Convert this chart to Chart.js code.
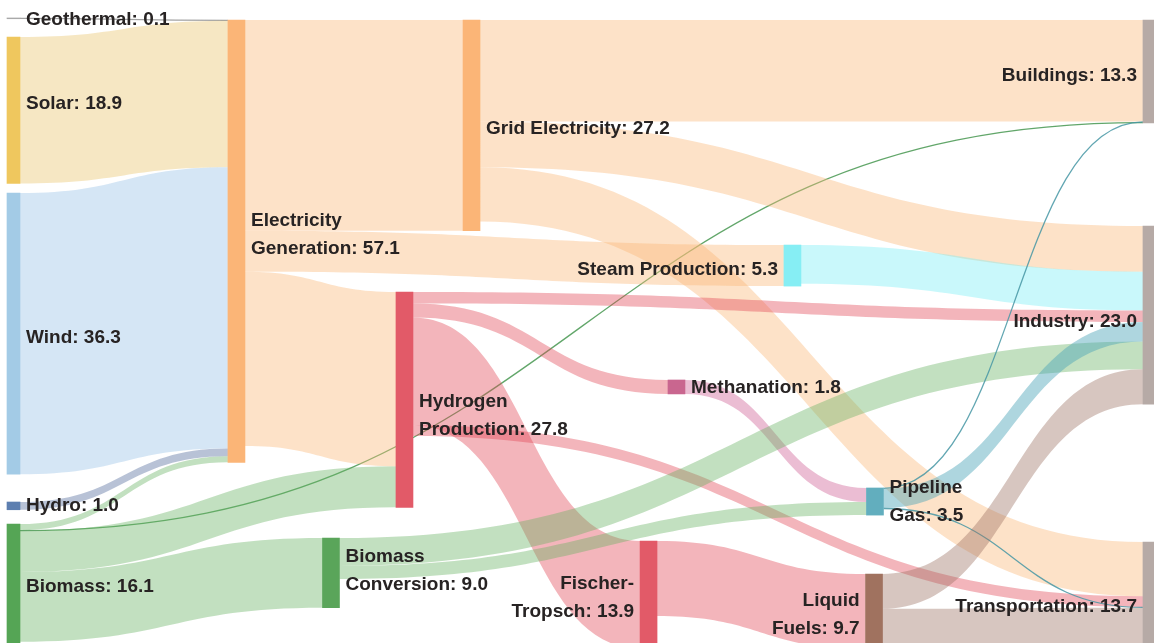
<!DOCTYPE html>
<html>
<head>
<meta charset="utf-8">
<script src="https://cdn.jsdelivr.net/npm/chart.js@4.4.1/dist/chart.umd.min.js"></script>
<style>
  html, body { margin: 0; padding: 0; background: #ffffff; }
  #wrap { width: 1154px; height: 643px; position: relative; }
</style>
</head>
<body>
<div id="wrap"><canvas id="c"></canvas></div>
<script>
// ---------------- DATA ----------------
const nodeLabels = [
  "Geothermal", "Solar", "Wind", "Hydro", "Biomass",
  "Electricity\nGeneration", "Grid Electricity", "Hydrogen\nProduction",
  "Steam Production", "Biomass\nConversion", "Methanation",
  "Fischer-\nTropsch", "Pipeline\nGas", "Liquid\nFuels",
  "Buildings", "Industry", "Transportation"
];
const nodeValues = [0.1, 18.9, 36.3, 1.0, 16.1, 57.1, 27.2, 27.8, 5.3, 9.0, 1.8, 13.9, 3.5, 9.7, 13.3, 23.0, 13.7];

const linkSource = [0, 1, 2, 3, 4, 4, 4, 4, 5, 5, 5, 6, 6, 6, 8, 7, 7, 7, 7, 10, 9, 9, 12, 12, 12, 11, 13, 13];
const linkTarget = [5, 5, 5, 5, 5, 14, 7, 9, 6, 8, 7, 14, 15, 16, 15, 15, 10, 11, 16, 12, 15, 12, 14, 15, 16, 13, 15, 16];
const linkValues = [0.1, 18.9, 36.3, 1.0, 0.8, 0.1, 5.3, 9.0, 27.2, 5.3, 22.5, 13.1, 5.9, 7.0, 5.0, 1.5, 1.8, 13.9, 1.4, 1.8, 3.6, 1.7, 0.1, 2.5, 0.1, 9.7, 4.5, 5.2];

// ---------------- LAYOUT (axis units) ----------------
// node centre on the horizontal axis (fraction of width)
const nodeX = [0.0117, 0.0117, 0.0117, 0.0117, 0.0117, 0.2049, 0.4086, 0.3505, 0.6867, 0.2868, 0.5862, 0.5620, 0.7582, 0.7574, 0.9978, 0.9978, 0.9978];
// node top on the value axis (energy units from the top)
const nodeY = [2.32, 4.78, 24.91, 64.80, 67.64, 2.58, 2.58, 37.69, 31.63, 69.45, 49.05, 69.83, 62.99, 74.09, 2.58, 29.17, 69.96];
const labelSide = ["r", "r", "r", "r", "r", "r", "r", "r", "l", "r", "r", "l", "r", "l", "l", "l", "l"];
const labelNudge = [1, -6, 4, 0, 0, -6, 3, 16, 4, -2, 1, 3, 0, 3, 4, 7, 12];
const sourceNodes = [0, 1, 2, 3, 4];
const otherNodes = [5, 6, 7, 8, 9, 10, 11, 12, 13, 14, 15, 16];

// ---------------- STYLE ----------------
const nodeColors = ["#a9a9a9", "#efc75e", "#a3cbe6", "#5d7fb0", "#55a555", "#fbb577", "#fbb577", "#e25a68",
  "#86eef4", "#5aa55a", "#c9668f", "#e25a68", "#62aebe", "#a0725f", "#b6aaa6", "#b6aaa6", "#b6aaa6"];
const linkColors = ["rgba(150,150,150,0.5)", "rgba(232,196,104,0.4)", "rgba(150,192,230,0.4)", "rgba(97,120,165,0.45)",
  "rgba(102,177,97,0.4)", "rgba(250,182,117,0.4)", "rgba(250,182,117,0.4)", "rgba(225,70,85,0.4)",
  "rgba(120,237,245,0.4)", "rgba(102,177,97,0.4)", "rgba(205,90,145,0.4)", "rgba(225,70,85,0.4)",
  "rgba(75,165,185,0.45)", "rgba(155,112,97,0.4)", "rgba(150,150,150,0.4)", "rgba(150,150,150,0.4)", "rgba(150,150,150,0.4)"];
const thinLinkColors = ["rgba(140,140,140,0.8)", "rgba(200,160,60,0.8)", "rgba(110,160,210,0.8)", "rgba(90,115,165,0.8)",
  "rgba(70,150,80,0.85)", "rgba(240,160,90,0.8)", "rgba(240,160,90,0.8)", "rgba(210,70,85,0.8)",
  "rgba(90,210,220,0.8)", "rgba(70,150,80,0.85)", "rgba(190,90,140,0.8)", "rgba(210,70,85,0.8)",
  "rgba(70,150,165,0.85)", "rgba(140,100,85,0.8)", "rgba(150,150,150,0.8)", "rgba(150,150,150,0.8)", "rgba(150,150,150,0.8)"];

function nodeData(list) {
  return list.map(i => ({ x: nodeX[i], y: [nodeY[i], nodeY[i] + nodeValues[i]], node: i }));
}

function linkStacks() {
  const outOff = nodeY.slice(), inOff = nodeY.slice();
  const idx = linkValues.map((_, i) => i);
  const res = idx.map(() => ({}));
  idx.slice().sort((a, b) => (linkSource[a] - linkSource[b]) || (nodeY[linkTarget[a]] - nodeY[linkTarget[b]]) || (a - b))
    .forEach(i => { const s = linkSource[i]; res[i].s0 = outOff[s]; res[i].s1 = outOff[s] + linkValues[i]; outOff[s] += linkValues[i]; });
  idx.slice().sort((a, b) => (linkTarget[a] - linkTarget[b]) || (nodeY[linkSource[a]] - nodeY[linkSource[b]]) || (a - b))
    .forEach(i => { const t = linkTarget[i]; res[i].t0 = inOff[t]; res[i].t1 = inOff[t] + linkValues[i]; inOff[t] += linkValues[i]; });
  return res;
}

function nodeEdges(chart) {
  const edges = [];
  chart.data.datasets.forEach((ds, di) => {
    const meta = chart.getDatasetMeta(di);
    meta.data.forEach((el, j) => {
      const n = ds.data[j].node;
      edges[n] = { left: el.x - el.width / 2, right: el.x + el.width / 2 };
    });
  });
  return edges;
}

const sankeyPlugin = {
  id: 'sankey',
  beforeDatasetsDraw(chart) {
    const { ctx, scales: { y } } = chart;
    const edges = nodeEdges(chart);
    const st = linkStacks();
    ctx.save();
    linkValues.forEach((v, i) => {
      const s = linkSource[i], t = linkTarget[i];
      const x0 = edges[s].right, x1 = edges[t].left, xm = (x0 + x1) / 2;
      const sy0 = y.getPixelForValue(st[i].s0), sy1 = y.getPixelForValue(st[i].s1);
      const ty0 = y.getPixelForValue(st[i].t0), ty1 = y.getPixelForValue(st[i].t1);
      if (sy1 - sy0 < 1.5) {
        const a = (sy0 + sy1) / 2, b = (ty0 + ty1) / 2;
        ctx.beginPath();
        ctx.moveTo(x0, a);
        ctx.bezierCurveTo(xm, a, xm, b, x1, b);
        ctx.lineWidth = 1.3;
        ctx.strokeStyle = thinLinkColors[s];
        ctx.stroke();
      } else {
        ctx.beginPath();
        ctx.moveTo(x0, sy0);
        ctx.bezierCurveTo(xm, sy0, xm, ty0, x1, ty0);
        ctx.lineTo(x1, ty1);
        ctx.bezierCurveTo(xm, ty1, xm, sy1, x0, sy1);
        ctx.closePath();
        ctx.fillStyle = linkColors[s];
        ctx.fill();
      }
    });
    ctx.restore();
  },
  afterDatasetsDraw(chart) {
    const { ctx, scales: { y } } = chart;
    const edges = nodeEdges(chart);
    ctx.save();
    ctx.font = 'bold 19px "Liberation Sans", Arial, sans-serif';
    ctx.fillStyle = '#272323';
    ctx.textBaseline = 'middle';
    const lineH = 28;
    nodeLabels.forEach((name, i) => {
      const lines = (name + ': ' + nodeValues[i].toFixed(1)).split('\n');
      const cy = y.getPixelForValue(nodeY[i] + nodeValues[i] / 2) + labelNudge[i];
      let tx;
      if (labelSide[i] === 'r') { ctx.textAlign = 'left'; tx = edges[i].right + 6; }
      else { ctx.textAlign = 'right'; tx = edges[i].left - 6; }
      const startY = cy - (lines.length - 1) * lineH / 2;
      lines.forEach((ln, k) => ctx.fillText(ln, tx, startY + k * lineH));
    });
    ctx.restore();
  }
};

new Chart(document.getElementById('c'), {
  type: 'bar',
  data: {
    datasets: [
      { data: nodeData(sourceNodes), backgroundColor: sourceNodes.map(i => nodeColors[i]), barThickness: 13, grouped: false, borderWidth: 0 },
      { data: nodeData(otherNodes), backgroundColor: otherNodes.map(i => nodeColors[i]), barThickness: 17, grouped: false, borderWidth: 0 }
    ]
  },
  options: {
    responsive: true,
    maintainAspectRatio: false,
    animation: false,
    events: [],
    layout: { padding: 0 },
    plugins: { legend: { display: false }, tooltip: { enabled: false } },
    scales: {
      x: { type: 'linear', min: 0, max: 1, offset: false, display: false },
      y: { type: 'linear', min: 0, max: 83, reverse: true, display: false }
    }
  },
  plugins: [sankeyPlugin]
});
</script>
</body>
</html>
